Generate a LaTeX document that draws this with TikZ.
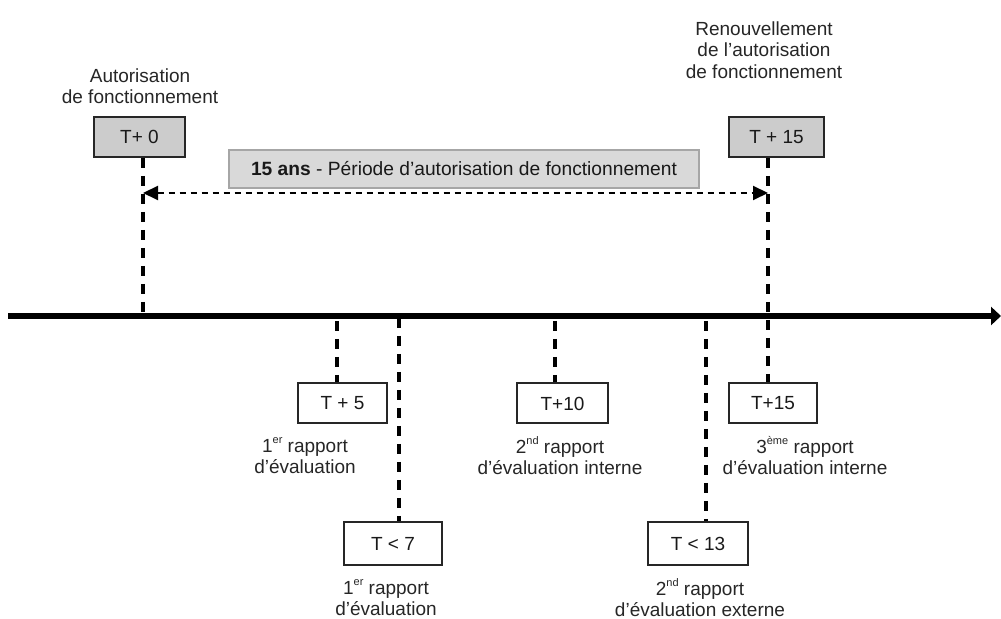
\documentclass[tikz,border=0pt]{standalone}
\usepackage{fontspec}
\setmainfont{Liberation Sans}
\usetikzlibrary{arrows.meta}

\newcommand{\rsup}[1]{\raisebox{0.45em}{\fontsize{5.5}{6}\selectfont #1}}

\begin{document}
\begin{tikzpicture}[x=0.5pt, y=-0.5pt,
    datebox/.style={draw=black!85, line width=1pt, inner sep=0pt,
      minimum height=20pt, text=black!90, font=\fontsize{9.5}{11}\selectfont},
    keybox/.style={datebox, fill=black!20},
    caption/.style={align=center, inner sep=0pt, text=black!85,
      font=\fontsize{9.5}{10.75}\selectfont},
    tick/.style={line width=1.6pt, dash pattern=on 5pt off 4pt},
    span/.style={line width=1pt, dash pattern=on 3pt off 2.5pt,
      {Triangle[length=7.5pt, width=7pt]}-{Triangle[length=7.5pt, width=7pt]}}]
  \useasboundingbox (0,0) rectangle (1001,619);

  % the time axis
  \coordinate (ax0) at (8,316);
  \coordinate (ax1) at (1001,316);
  \draw[line width=3.2pt, -{Triangle[length=5pt, width=9pt]}] (ax0) -- (ax1);

  % marks on the axis
  \coordinate (a0) at (143,316);
  \coordinate (a5) at (337,321);
  \coordinate (a7) at (399,318);
  \coordinate (a10) at (555,321);
  \coordinate (a13) at (706,321);
  \coordinate (a15) at (768,316);

  % above the axis
  \node[caption] (c0) at (140,86) {Autorisation\\de fonctionnement};
  \node[caption] (c15) at (764,50)
    {Renouvellement\\de l’autorisation\\de fonctionnement};
  \node[keybox, minimum width=45.5pt] (t0) at (139.5,137) {T+ 0};
  \node[keybox, minimum width=47.5pt] (t15) at (776.5,137) {T + 15};
  \node[datebox, draw=black!35, fill=black!15, minimum width=235pt,
    minimum height=19pt, font=\fontsize{9.6}{11}\selectfont]
    (period) at (464,169) {\textbf{15 ans} - Période d’autorisation de fonctionnement};

  \coordinate (p0) at (143,193);
  \coordinate (p15) at (768,193);
  \draw[span] (p0) -- (p15);

  % below the axis
  \node[datebox, minimum width=44.5pt] (t5) at (342.5,403.5) {T + 5};
  \node[datebox, minimum width=45.5pt] (t10) at (562.5,403.5) {T+10};
  \node[datebox, minimum width=44pt] (t15b) at (773,403.5) {T+15};
  \node[datebox, minimum width=49pt, minimum height=21.5pt] (t7) at (393,543.5) {T < 7};
  \node[datebox, minimum width=50pt, minimum height=21.5pt] (t13) at (698,543.5) {T < 13};

  \node[caption] (c5) at (305,456) {1\rsup{er} rapport\\d’évaluation};
  \node[caption] (c10) at (560,456) {2\rsup{nd} rapport\\d’évaluation interne};
  \node[caption] (c15b) at (805,456) {3\rsup{ème} rapport\\d’évaluation interne};
  \node[caption] (c7) at (386,598) {1\rsup{er} rapport\\d’évaluation};
  \node[caption] (c13) at (700,598) {2\rsup{nd} rapport\\d’évaluation externe};

  % dashed marks
  \draw[tick] (t0.south -| a0) -- (a0);
  \draw[tick] (t15.south -| a15) -- (a15) -- (t15b.north -| a15);
  \draw[tick] (a5) -- (t5.north -| a5);
  \draw[tick] (a7) -- (t7.north -| a7);
  \draw[tick] (a10) -- (t10.north -| a10);
  \draw[tick] (a13) -- (t13.north -| a13);
\end{tikzpicture}
\end{document}
